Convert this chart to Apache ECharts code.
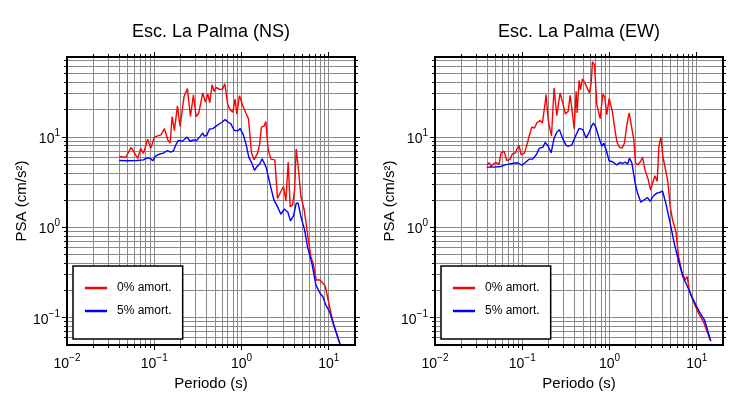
<!DOCTYPE html>
<html><head><meta charset="utf-8">
<script src="https://cdn.jsdelivr.net/npm/echarts@6/dist/echarts.min.js"></script>
<style>html,body{margin:0;padding:0;background:#fff}#c{width:730px;height:400px}</style>
</head><body><div id="c"></div>
<script>
// ---- Data (periods in s, PSA in cm/s^2) ----
const nsPeriod0 = [0.0398,0.0416,0.0471,0.0542,0.0647,0.0700,0.0752,0.0841,0.0912,0.1005,0.1096,0.1197,0.1309,0.1429,0.1521,0.1603,0.1702,0.1845,0.1977,0.2198,0.2399,0.2600,0.2812,0.3020,0.3243,0.3597,0.3864,0.4111,0.4335,0.4603,0.4853,0.5117,0.5689,0.6109,0.6442,0.6966,0.7413,0.7962,0.8453,0.8830,0.9484,1.035,1.122,1.202,1.303,1.396,1.528,1.611,1.694,1.820,1.901,2.023,2.173,2.410,2.588,2.825,3.034,3.228,3.428,3.614,3.846,4.055,4.236,4.467,4.797,5.236,5.768,6.237,6.637,7.194,7.980,9.120,10.05,11.35,12.42,13.55];
const nsPSA0 = [6.1,5.8,5.95,7.7,5.8,7.5,6.6,9.5,7.5,10,10.3,10.6,12.4,9.3,8.6,16.9,11.8,22.2,13.1,28.2,34.4,16.9,29.4,16.9,18.5,30.8,24.4,30,24,38,32,35.5,33.5,34.4,38.9,22.9,20.1,18.9,26.4,18.0,28.7,22.2,18.5,16.0,6.65,5.6,6.65,8.2,12.9,13.3,14.9,7.2,5.7,5.6,2.1,2.5,2.84,1.97,5.3,1.7,1.77,2.54,7.4,4.7,2.2,1.56,0.79,0.475,0.40,0.262,0.262,0.224,0.144,0.083,0.065,0.05];
const nsPeriod5 = [0.0398,0.0484,0.0630,0.0752,0.0805,0.0857,0.0912,0.0962,0.1040,0.1146,0.1274,0.1416,0.1545,0.1660,0.1766,0.1892,0.2104,0.2382,0.2576,0.2812,0.3076,0.3357,0.3597,0.3733,0.3999,0.4295,0.4688,0.5212,0.5902,0.6501,0.7096,0.7551,0.8241,0.8995,0.9661,1.054,1.132,1.213,1.315,1.409,1.500,1.611,1.726,1.803,1.919,2.094,2.350,2.588,2.825,3.090,3.404,3.648,3.954,4.236,4.467,4.797,5.284,5.715,6.412,7.129,7.980,8.570,9.268,10.23,11.17,12.42,13.55];
const nsPSA5 = [5.5,5.47,5.5,5.6,5.8,5.9,5.75,5.47,6.2,6.5,6.65,7.1,6.8,7.05,8.2,9.2,9.0,10,9.0,9.3,9.2,10.2,11.1,10.3,10.4,12.3,12.4,13.4,14.5,15.6,14.5,14.0,11.9,11.7,12.4,10.5,8.2,6.0,5.15,4.27,4.7,5.0,5.75,5.7,4.6,3.2,2.02,1.70,1.40,1.6,1.47,1.18,1.35,1.85,1.85,1.32,0.94,0.61,0.40,0.23,0.186,0.171,0.138,0.117,0.090,0.065,0.05];
const ewPeriod0 = [0.0392,0.0420,0.0439,0.0475,0.0509,0.0542,0.0571,0.0619,0.0664,0.0724,0.0771,0.0828,0.0881,0.0920,0.0971,0.1059,0.1127,0.1197,0.1285,0.1380,0.1466,0.1603,0.1702,0.1828,0.1875,0.1995,0.2163,0.2317,0.2489,0.2716,0.2917,0.3126,0.3357,0.3540,0.3793,0.3936,0.4150,0.4256,0.4487,0.4645,0.4898,0.5212,0.5902,0.6166,0.6383,0.6730,0.7161,0.7816,0.8395,0.8830,0.9311,0.9908,1.074,1.132,1.213,1.303,1.396,1.486,1.581,1.683,1.774,1.901,1.986,2.113,2.270,2.393,2.547,2.754,2.958,3.112,3.311,3.524,3.681,3.882,4.093,4.385,4.667,4.966,5.284,5.768,6.194,6.761,7.379,7.780,8.279,9.204,10.50,11.97,14.29];
const ewPSA0 = [4.93,5.2,4.73,5.1,5.2,5.0,6.65,7.0,5.5,5.7,6.5,6.65,7.55,8.1,6.4,6.65,8.1,10.2,12.9,12.6,14.3,15.3,14.3,23.8,29.5,14.9,10.3,34.9,17.3,30.8,23.8,18,19.3,29,16.9,12.4,32,18.5,42.5,33.5,44,39.8,30.8,39.8,68,63.5,22.9,16,30,27.5,17.7,26.8,19.6,13.7,8.95,7.7,7.55,8.6,13.7,18.5,17.7,9.3,5.15,4.93,5.37,6.0,4.35,3.5,2.6,2.72,3.73,3.22,7.9,10,6.1,4.35,3.22,1.70,1.21,0.90,0.475,0.324,0.262,0.285,0.194,0.150,0.112,0.090,0.0565];
const ewPeriod5 = [0.0392,0.0467,0.0571,0.0635,0.0759,0.0881,0.0927,0.0986,0.1079,0.1197,0.1318,0.1466,0.1574,0.1718,0.1828,0.1945,0.2143,0.2317,0.2489,0.2667,0.2891,0.3184,0.3357,0.3698,0.4074,0.4487,0.4943,0.5395,0.5902,0.6266,0.6546,0.6966,0.7482,0.8166,0.8610,0.9162,0.9908,1.091,1.213,1.324,1.422,1.514,1.611,1.694,1.803,1.968,2.094,2.291,2.455,2.729,2.931,3.141,3.491,3.811,4.055,4.426,4.966,5.521,6.194,6.934,7.852,8.650,9.772,10.96,12.30,14.52];
const ewPSA5 = [4.65,4.65,4.73,4.93,5.1,5.2,5.3,4.9,5.2,5.7,5.7,6.5,7.55,7.7,8.7,8.2,6.7,9.75,11.3,12.1,9.75,8.1,7.9,8.2,10.2,12.5,12.1,9.75,11.5,13.4,14.3,12.9,10.2,7.9,8.6,7.2,5.47,5.3,4.93,5.25,5.1,5.3,5.0,5.85,5.2,3.09,2.4,1.9,2.0,2.14,1.94,2.2,2.4,2.45,2.54,1.85,1.11,0.667,0.425,0.285,0.221,0.178,0.138,0.112,0.094,0.055];

const titles = ['Esc. La Palma (NS)', 'Esc. La Palma (EW)'];
const seriesNames = ['0% amort.', '5% amort.'];
const xName = 'Periodo (s)';
const yName = 'PSA (cm/s\u00B2)';
const xRange = [0.01, 20];
const yRange = [0.05, 77];
const xDecades = [0.01, 0.1, 1, 10];
const yDecades = [0.01, 0.1, 1, 10];
const mantissas = [1,2,3,4,5,6,7,8,9];

const FONT = '"Liberation Sans", Arial, Helvetica, sans-serif';

// grid/tick items: [x, y, kind(0=x,1=y), major]
function gridItems() {
  const items = [];
  xDecades.forEach(d => mantissas.forEach(m => {
    const v = d * m;
    if (v >= xRange[0] * 0.999 && v <= xRange[1] * 1.001) items.push([v, 1, 0, m === 1 ? 1 : 0]);
  }));
  yDecades.forEach(d => mantissas.forEach(m => {
    const v = d * m;
    if (v >= yRange[0] * 0.999 && v <= yRange[1] * 1.001) items.push([1, v, 1, m === 1 ? 1 : 0]);
  }));
  return items;
}
function snap(v) { return Math.round(v - 0.5) + 0.5; }
function gridRender(params, api) {
  const cs = params.coordSys;
  const kind = api.value(2), major = api.value(3);
  const len = major ? 5 : 3;
  const gl = { stroke: '#8a8a8a', lineWidth: 1 };
  const tk = { stroke: '#000', lineWidth: 1 };
  const children = [];
  const L = cs.x, R = cs.x + cs.width, T = cs.y, B = cs.y + cs.height;
  if (kind === 0) {
    const x = snap(api.coord([api.value(0), api.value(1)])[0]);
    if (x > L + 2 && x < R - 2) {
      children.push({ type: 'line', shape: { x1: x, y1: T, x2: x, y2: B }, style: gl });
      children.push({ type: 'line', shape: { x1: x, y1: B, x2: x, y2: B + len }, style: tk });
      children.push({ type: 'line', shape: { x1: x, y1: T - len, x2: x, y2: T }, style: tk });
    }
  } else {
    const y = snap(api.coord([api.value(0), api.value(1)])[1]);
    if (y > T + 2 && y < B - 2) {
      children.push({ type: 'line', shape: { x1: L, y1: y, x2: R, y2: y }, style: gl });
      children.push({ type: 'line', shape: { x1: L - len, y1: y, x2: L, y2: y }, style: tk });
      children.push({ type: 'line', shape: { x1: R, y1: y, x2: R + len, y2: y }, style: tk });
    }
  }
  return { type: 'group', children: children };
}
function frameRender(params, api) {
  const cs = params.coordSys;
  return { type: 'rect', shape: { x: cs.x, y: cs.y, width: cs.width, height: cs.height },
    style: { fill: 'none', stroke: '#000', lineWidth: 2 } };
}
function supLabel(v) {
  const lg = Math.log10(v), e = Math.round(lg);
  if (Math.abs(lg - e) > 1e-6) return '';
  return '{b|10}{s|' + (e < 0 ? '\u2212' : '') + Math.abs(e) + '}';
}
const rich = {
  b: { fontSize: 14, fontFamily: FONT, color: '#000', lineHeight: 18, verticalAlign: 'bottom' },
  s: { fontSize: 10, fontFamily: FONT, color: '#000', lineHeight: 10, verticalAlign: 'top' }
};

const gridsPos = [{ left: 67, top: 57, width: 288, height: 288 }, { left: 435, top: 57, width: 288, height: 288 }];
const datasets = [
  [[nsPeriod0, nsPSA0], [nsPeriod5, nsPSA5]],
  [[ewPeriod0, ewPSA0], [ewPeriod5, ewPSA5]]
];
const colors = ['#ff0000', '#0000ff'];

const xAxes = [], yAxes = [], series = [], graphics = [], legends = [];
gridsPos.forEach((g, gi) => {
  xAxes.push({
    type: 'log', logBase: 10, gridIndex: gi, min: xRange[0], max: xRange[1],
    name: xName, nameLocation: 'middle', nameGap: 26,
    nameTextStyle: { fontSize: 15, fontFamily: FONT, color: '#000' },
    axisLine: { show: false }, axisTick: { show: false }, splitLine: { show: false },
    axisLabel: { margin: 8, formatter: supLabel, rich: rich, showMinLabel: true, showMaxLabel: true }
  });
  yAxes.push({
    type: 'log', logBase: 10, gridIndex: gi, min: yRange[0], max: yRange[1],
    name: yName, nameLocation: 'middle', nameGap: 36,
    nameTextStyle: { fontSize: 15, fontFamily: FONT, color: '#000' },
    axisLine: { show: false }, axisTick: { show: false }, splitLine: { show: false },
    axisLabel: { margin: 7, formatter: supLabel, rich: rich, showMinLabel: true, showMaxLabel: true }
  });
  series.push({
    type: 'custom', xAxisIndex: gi, yAxisIndex: gi, data: gridItems(), renderItem: gridRender,
    clip: false, silent: true, z: 1, animation: false, encode: { x: 0, y: 1 }
  });
  datasets[gi].forEach((ds, si) => {
    series.push({
      type: 'line', name: seriesNames[si], xAxisIndex: gi, yAxisIndex: gi,
      data: ds[0].map((t, i) => [t, ds[1][i]]),
      showSymbol: false, symbol: 'none', clip: true, z: 3, animation: false,
      lineStyle: { color: colors[si], width: 1.4 }, itemStyle: { color: colors[si] }
    });
  });
  series.push({
    type: 'custom', xAxisIndex: gi, yAxisIndex: gi, data: [[1, 1]], renderItem: frameRender,
    clip: false, silent: true, z: 4, animation: false, encode: { x: 0, y: 1 }
  });
  graphics.push({
    type: 'text', x: g.left + g.width / 2, y: 32, z: 10,
    style: { text: titles[gi], textAlign: 'center', textVerticalAlign: 'middle', font: '18px ' + FONT, fill: '#000' }
  });
  legends.push({
    data: seriesNames, orient: 'vertical', left: g.left + 6, top: 266,
    backgroundColor: '#fff', borderColor: '#000', borderWidth: 1.5,
    padding: [16, 11, 22, 12], itemGap: 11, itemWidth: 22, itemHeight: 2.5, icon: 'rect',
    selectedMode: false, z: 6,
    textStyle: { fontSize: 12, fontFamily: FONT, color: '#000', padding: [0, 0, 0, 5] }
  });
});

const chart = echarts.init(document.getElementById('c'), null, { renderer: 'canvas' });
chart.setOption({
  animation: false,
  backgroundColor: '#fff',
  textStyle: { fontFamily: FONT },
  grid: gridsPos.map(g => Object.assign({ containLabel: false }, g)),
  xAxis: xAxes, yAxis: yAxes, series: series, legend: legends, graphic: graphics
});
</script>
</body></html>
